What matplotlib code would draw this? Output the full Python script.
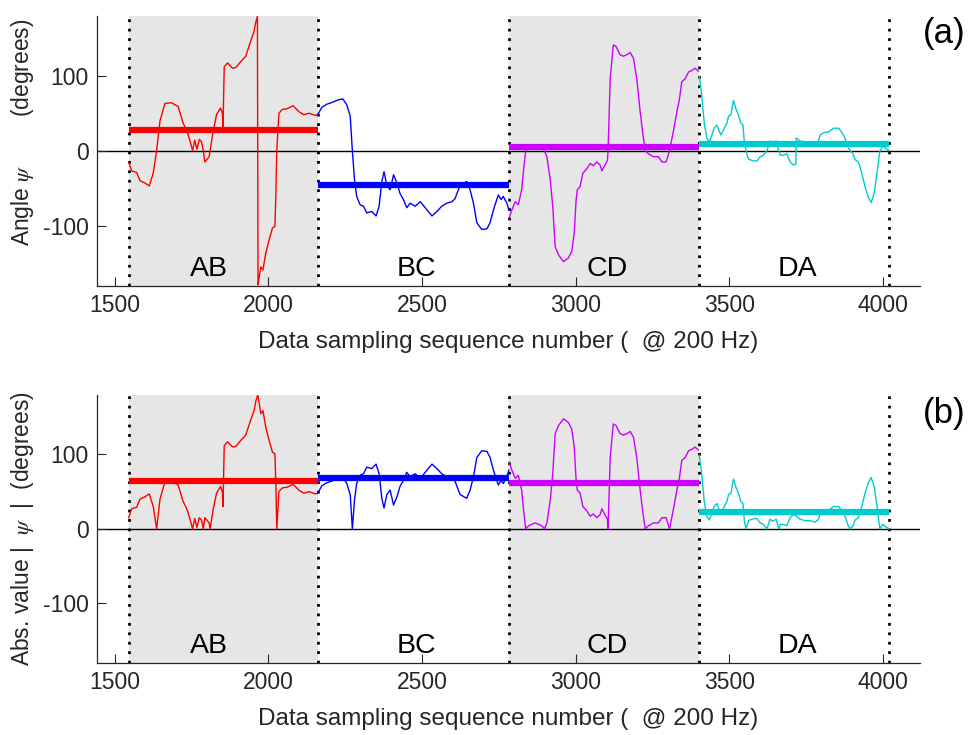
import numpy as np
import matplotlib
matplotlib.use("Agg")
import matplotlib.pyplot as plt

# ---------------- data ----------------
seg_names = ["AB", "BC", "CD", "DA"]
seg_bounds = [1545, 2160, 2782, 3400, 4020]
seg_colors = ["#ff0000", "#0000ff", "#cc00ff", "#00cccc"]
label_x = [1807, 2483, 3101, 3720]
label_y = -158

ab_x = [1545, 1555, 1571, 1582, 1598, 1612, 1625, 1636, 1647, 1663, 1684, 1706, 1722,
        1735, 1744, 1753, 1760, 1767, 1775, 1782, 1788, 1793, 1807, 1810, 1820, 1831,
        1844, 1850, 1852, 1856, 1867, 1883, 1894, 1910, 1926, 1942, 1953, 1959, 1964,
        1966, 1967, 1975, 1982, 1991, 2002, 2013, 2021, 2024, 2027, 2034, 2045, 2061,
        2080, 2099, 2115, 2132, 2153, 2160]
ab_y = [-15, -27, -29, -40, -43, -47, -30, 0, 40, 63, 64, 59, 37,
        26, 14, 0, 14, 2, 15, 12, 0, -15, -8, 0, 26, 48,
        57, 50, 30, 112, 117, 110, 111, 119, 126, 146, 159, 172, 179,
        -179, -176, -155, -159, -137, -119, -103, -101, -60, 0, 50, 55, 56,
        60, 52, 48, 50, 47, 48]

bc_x = [2160, 2174, 2190, 2211, 2228, 2242, 2255, 2266, 2273, 2280, 2287, 2298, 2309,
        2320, 2336, 2350, 2360, 2369, 2376, 2385, 2396, 2407, 2418, 2428, 2439, 2450,
        2461, 2477, 2494, 2510, 2532, 2548, 2564, 2580, 2597, 2607, 2618, 2624, 2645,
        2656, 2667, 2678, 2694, 2711, 2721, 2732, 2743, 2748, 2757, 2764, 2776, 2782]
bc_y = [48, 58, 62, 65, 68, 69, 61, 46, 0, -39, -61, -72, -74,
        -83, -81, -87, -74, -41, -28, -46, -52, -32, -43, -57, -65, -76,
        -70, -74, -68, -76, -87, -81, -74, -70, -68, -64, -52, -46, -41,
        -52, -70, -96, -105, -104, -96, -79, -65, -59, -65, -61, -70, -79]

cd_x = [2783, 2792, 2803, 2813, 2824, 2829, 2837, 2846, 2868, 2890, 2898, 2906, 2917,
        2925, 2933, 2944, 2960, 2976, 2987, 2995, 3001, 3005, 3014, 3023, 3036, 3047,
        3057, 3068, 3079, 3085, 3095, 3103, 3105, 3112, 3122, 3131, 3144, 3155, 3166,
        3177, 3188, 3199, 3209, 3218, 3226, 3236, 3253, 3269, 3280, 3294, 3305, 3318,
        3329, 3337, 3345, 3356, 3367, 3378, 3388, 3399]
cd_y = [-90, -79, -68, -72, -52, -30, 0, 4, 8, 4, 0, -8, -39,
        -74, -128, -139, -148, -143, -134, -110, -66, -52, -48, -30, -24, -17,
        -20, -15, -19, -27, -19, -13, 0, 96, 141, 139, 128, 126, 128,
        131, 123, 94, 54, 23, 0, -4, -8, -8, -15, -15, 0, 27,
        52, 68, 92, 96, 105, 107, 110, 106]

da_x = [3402, 3410, 3418, 3426, 3435, 3443, 3450, 3459, 3472, 3481, 3492, 3497, 3505,
        3513, 3522, 3529, 3537, 3544, 3549, 3554, 3562, 3573, 3589, 3600, 3611, 3622,
        3632, 3641, 3652, 3659, 3662, 3665, 3676, 3687, 3697, 3708, 3716, 3717, 3730,
        3746, 3763, 3779, 3790, 3795, 3806, 3822, 3839, 3855, 3865, 3876, 3887, 3893,
        3902, 3909, 3920, 3931, 3942, 3952, 3961, 3971, 3980, 3988, 3990, 3993, 3999,
        4011, 4020]
da_y = [99, 73, 37, 17, 12, 21, 30, 34, 21, 28, 37, 46, 48,
        67, 55, 48, 37, 34, 9, 0, -11, -13, -14, -8, -6, 0,
        13, 10, 13, 2, 0, -6, -6, -4, -15, -19, -18, 17, 13,
        11, 11, 9, 13, 21, 24, 25, 30, 30, 25, 17, 4, 0,
        -4, -12, -15, -31, -49, -62, -69, -57, -31, -4, 0, 2, 6,
        2, 0]

mean_psi = [27, -46, 5, 9]
mean_abs = [64, 68, 61, 22]

yticks = [-100, 0, 100]
xticks = [1500, 2000, 2500, 3000, 3500, 4000]
xlabel = "Data sampling sequence number (  @ 200 Hz)"
ylabels = [r"Angle $\psi$        (degrees)", r"Abs. value |  $\psi$  |  (degrees)"]
ylabel_y = [0.569, 0.5]
panel_tags = ["(a)", "(b)"]

seg_x = [ab_x, bc_x, cd_x, da_x]
seg_y = [ab_y, bc_y, cd_y, da_y]

# ---------------- plotting ----------------
plt.rcParams["font.family"] = ["Liberation Sans", "DejaVu Sans"]
plt.rcParams["mathtext.fontset"] = "stix"
plt.rcParams["axes.unicode_minus"] = False
txtc = "#262626"

fig = plt.figure(figsize=(9.69, 7.35), dpi=100)
ax_pos = [[0.1001, 0.6113, 0.8493, 0.3673],
          [0.1001, 0.0984, 0.8493, 0.3642]]
tag_y = [1 - 33 / 735, 1 - 413 / 735]

for k in range(2):
    ax = fig.add_axes(ax_pos[k])
    ax.set_xlim(1442, 4120)
    ax.set_ylim(-180, 180)
    for i in (0, 2):
        ax.axvspan(seg_bounds[i], seg_bounds[i + 1], color="#e6e6e6", lw=0, zorder=0)
    ax.axhline(0, color="black", lw=1.0, zorder=1)
    for b in seg_bounds:
        ax.axvline(b, color="black", lw=2.0, linestyle=(0, (1, 2.4)), zorder=2)
    for i in range(4):
        ys = np.array(seg_y[i], dtype=float)
        if k == 1:
            ys = np.abs(ys)
        ax.plot(seg_x[i], ys, color=seg_colors[i], lw=1.0, zorder=3)
        m = mean_psi[i] if k == 0 else mean_abs[i]
        ax.plot([seg_bounds[i], seg_bounds[i + 1]], [m, m], color=seg_colors[i],
                lw=4.5, solid_capstyle="butt", zorder=4)
        ax.text(label_x[i], label_y, seg_names[i], ha="center", va="center",
                fontsize=20.5, color="black", zorder=5)
    ax.set_xticks(xticks)
    ax.set_yticks(yticks)
    ax.tick_params(direction="in", length=6.5, width=0.8, labelsize=16.5,
                   colors=txtc, pad=6)
    for s in ("top", "right"):
        ax.spines[s].set_visible(False)
    for s in ("left", "bottom"):
        ax.spines[s].set_color(txtc)
        ax.spines[s].set_linewidth(0.9)
    ax.set_xlabel(xlabel, fontsize=17.5, color=txtc, labelpad=10)
    ax.set_ylabel(ylabels[k], fontsize=16.5, color=txtc)
    ax.yaxis.set_label_coords(-0.074, ylabel_y[k])
    fig.text(944 / 969, tag_y[k], panel_tags[k], fontsize=25, ha="center",
             va="center", color="black")

fig.savefig("out.png", dpi=100)
